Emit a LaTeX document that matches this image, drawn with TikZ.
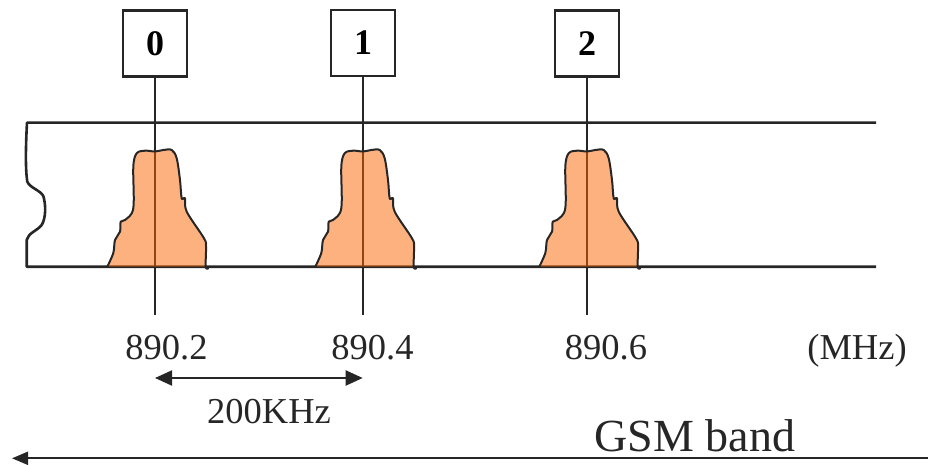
\documentclass[tikz,border=0pt]{standalone}
\usepackage{fontspec}
\setmainfont{Liberation Serif}
\usetikzlibrary{arrows.meta}

\definecolor{ink}{RGB}{38,38,38}
\definecolor{carrier}{RGB}{250,100,0}

\tikzset{
  band/.style={draw=ink, line width=2.6pt},
  chanbox/.style={draw=ink, line width=2.2pt, minimum width=64pt, minimum height=66pt,
                  inner sep=0pt, font=\fontsize{36}{40}\selectfont\bfseries},
  chanline/.style={draw=ink, line width=2pt},
  freq/.style={anchor=base, font=\fontsize{36.5}{40}\selectfont, text=ink},
  span/.style={draw=ink, line width=2pt, {Triangle[length=17pt,width=15pt]}-{Triangle[length=17pt,width=15pt]}},
  bandarrow/.style={draw=ink, line width=2pt, -{Triangle[length=16pt,width=13pt]}},
  % one GSM carrier spectrum, baseline at the pic origin
  spectrum/.pic={
    \fill[carrier, fill opacity=0.5]
      plot[smooth, tension=0.55] coordinates {
        (-47.7,0) (-41.7,-13.7) (-40,-26.7) (-35,-35) (-34.3,-45) (-30,-46.7)
        (-21.7,-58.4) (-21.7,-100) (-18.3,-113.4) (-10,-116) (0,-115.2)
        (8.3,-116.7) (16.7,-116.7) (21.7,-108.4) (25,-86.7) (26.7,-68.4)
        (30,-68.4) (31.7,-55) (49,-28.4) (51,-20) (50.7,0)} -- cycle;
    \draw[ink, line width=2pt, line cap=round, line join=round]
      plot[smooth, tension=0.55] coordinates {
        (-47.7,0) (-41.7,-13.7) (-40,-26.7) (-35,-35) (-34.3,-45) (-30,-46.7)
        (-21.7,-58.4) (-21.7,-100) (-18.3,-113.4) (-10,-116) (0,-115.2)
        (8.3,-116.7) (16.7,-116.7) (21.7,-108.4) (25,-86.7) (26.7,-68.4)
        (30,-68.4) (31.7,-55) (49,-28.4) (51,-20) (50.7,0) (53.3,1.6)};
  }
}

\begin{document}
\begin{tikzpicture}[x=1pt, y=-1pt]
  \useasboundingbox (0,0) rectangle (928,465);

  % band edges with a torn left border
  \draw[band, line join=round]
    (876,122.7) -- (27,122.7)
    .. controls (25.5,150) and (25.5,170) .. (27.3,181.7)
    .. controls (30,188) and (40,190) .. (43.3,196)
    .. controls (46,205) and (46,218) .. (41.7,225)
    .. controls (37,231) and (28,233) .. (26.7,240)
    -- (26.7,266.7) -- (876,266.7);

  % channel boxes and their centre lines
  \node[chanbox] (c0) at (155,43.5) {0};
  \node[chanbox] (c1) at (363,43) {1};
  \node[chanbox] (c2) at (587,43.5) {2};
  \coordinate (e0) at (155,315);
  \coordinate (e1) at (363,315);
  \coordinate (e2) at (587,315);
  \draw[chanline] (c0.south) -- (e0);
  \draw[chanline] (c1.south) -- (e1);
  \draw[chanline] (c2.south) -- (e2);

  % carrier spectra
  \pic at (155,266.7) {spectrum};
  \pic at (363,266.7) {spectrum};
  \pic at (587,266.7) {spectrum};

  % frequency labels
  \node[freq] (f0) at (166.5,359) {890.2};
  \node[freq] (f1) at (372.5,359) {890.4};
  \node[freq] (f2) at (606,359) {890.6};
  \node[freq] (unit) at (857,359) {(MHz)};

  % carrier spacing
  \coordinate (s0) at (155,378);
  \coordinate (s1) at (362.7,378);
  \draw[span] (s0) -- (s1);
  \node[freq] (spacing) at (269,423) {200KHz};

  % whole band
  \node[anchor=base, font=\fontsize{46}{50}\selectfont, text=ink] (gsm) at (695,451.7) {GSM band};
  \coordinate (b0) at (930,458.3);
  \coordinate (b1) at (12,458.3);
  \draw[bandarrow] (b0) -- (b1);
\end{tikzpicture}
\end{document}
